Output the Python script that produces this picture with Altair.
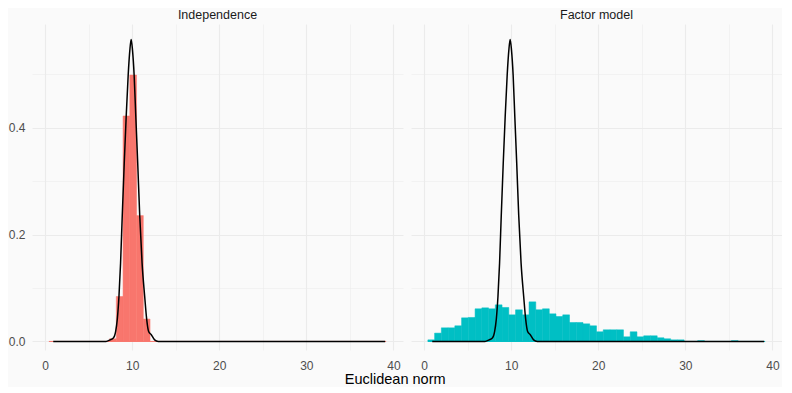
import altair as alt
import pandas as pd

panels = ["Independence", "Factor model"]
panel_colors = ["#F8766D", "#00BFC4"]

# histogram binning (50 bins)
bin_start = 0.436
bin_width = 0.7745

indep_density = [
    0.0, 0.0, 0.0, 0.0, 0.0, 0.0, 0.0, 0.0, 0.0, 0.005,
    0.0841, 0.4219, 0.4985, 0.2355, 0.0419, 0.0, 0.0, 0.0, 0.0, 0.0,
    0.0, 0.0, 0.0, 0.0, 0.0, 0.0, 0.0, 0.0, 0.0, 0.0,
    0.0, 0.0, 0.0, 0.0, 0.0, 0.0, 0.0, 0.0, 0.0, 0.0,
    0.0, 0.0, 0.0, 0.0, 0.0, 0.0, 0.0, 0.0, 0.0, 0.0,
]
factor_density = [
    0.003, 0.0156, 0.0255, 0.0255, 0.0293, 0.0442, 0.0449, 0.0611, 0.0629, 0.0611,
    0.0685, 0.0636, 0.0498, 0.0592, 0.0498, 0.0741, 0.0592, 0.0611, 0.0517, 0.0467,
    0.0498, 0.0355, 0.0355, 0.0330, 0.0293, 0.0181, 0.0218, 0.0218, 0.0218, 0.0087,
    0.0181, 0.0087, 0.0106, 0.0106, 0.0069, 0.0050, 0.0030, 0.0030, 0.0, 0.0,
    0.0015, 0.0, 0.0, 0.0, 0.0, 0.0015, 0.0, 0.0, 0.0, 0.0,
]

# reference density curve (same in both panels)
curve_x = [0.94, 7.0, 7.46, 7.84, 8.106, 8.295, 8.485, 8.67, 8.864, 9.09, 9.318,
           9.545, 9.735, 9.886, 10.04, 10.227, 10.417, 10.64, 10.87, 11.14, 11.44,
           11.667, 11.89, 12.2, 12.58, 13.0, 39.05]
curve_y = [0.0, 0.0, 0.003, 0.0063, 0.0187, 0.0418, 0.0841, 0.1465, 0.2355, 0.333, 0.4219,
           0.4985, 0.545, 0.565, 0.545, 0.4985, 0.4219, 0.333, 0.2355, 0.1465, 0.0841,
           0.0418, 0.0187, 0.0125, 0.003, 0.0, 0.0]

rows = []
for p, dens in zip(panels, [indep_density, factor_density]):
    for k, d in enumerate(dens):
        rows.append({"kind": "bar", "panel": p, "x": bin_start + k * bin_width,
                     "xe": bin_start + (k + 1) * bin_width, "y": d, "order": k})
    for i, (cx, cy) in enumerate(zip(curve_x, curve_y)):
        rows.append({"kind": "line", "panel": p, "x": cx, "xe": cx, "y": cy, "order": i})
df = pd.DataFrame(rows)

xs = alt.Scale(domain=[-1.5, 41.1], nice=False, zero=False)
ys = alt.Scale(domain=[-0.016, 0.594], nice=False, zero=False)

xaxis = alt.Axis(
    title=None, values=[0, 5, 10, 15, 20, 25, 30, 35, 40],
    labelExpr="datum.value % 10 === 0 ? datum.label : ''",
    gridWidth={"condition": {"test": "datum.value % 10 === 0", "value": 1.1}, "value": 0.55},
    labelOverlap=False, labelFlush=False, labelPadding=10,
)
yaxis = alt.Axis(
    title=None, values=[0, 0.1, 0.2, 0.3, 0.4, 0.5],
    labelExpr="round(datum.value*10) % 2 === 0 ? format(datum.value, '.1f') : ''",
    gridWidth={"condition": {"test": "round(datum.value*10) % 2 === 0", "value": 1.1}, "value": 0.55},
    labelOverlap=False, labelFlush=False, labelPadding=7,
)
color = alt.Color("panel:N", scale=alt.Scale(domain=panels, range=panel_colors), legend=None)
stroke = alt.Stroke("panel:N", scale=alt.Scale(domain=panels, range=panel_colors), legend=None)

base = alt.Chart()
bars = base.transform_filter("datum.kind === 'bar' && datum.y > 0").mark_rect(strokeWidth=0.5).encode(
    x=alt.X("x:Q", scale=xs, axis=xaxis),
    x2="xe:Q",
    y=alt.Y("y:Q", scale=ys, axis=yaxis),
    y2=alt.datum(0),
    color=color,
    stroke=stroke,
)
zero = base.transform_filter("datum.kind === 'bar'").mark_rule(strokeWidth=1).encode(
    x=alt.X("min(x):Q", title=None),
    x2="max(xe):Q",
    y=alt.datum(0),
    color=color,
)
line = base.transform_filter("datum.kind === 'line'").mark_line(
    color="black", strokeWidth=1.5, interpolate="monotone"
).encode(
    x=alt.X("x:Q", title=None),
    y=alt.Y("y:Q", title=None),
    order="order:Q",
)

layered = alt.layer(bars, zero, line).properties(width=371, height=326)

chart = alt.FacetChart(
    data=df,
    spec=layered,
    facet=alt.Facet("panel:N", sort=panels, header=alt.Header(
        title=None, labelFontSize=12.5, labelColor="#1a1a1a",
        labelFont="Liberation Sans", labelPadding=3)),
    columns=2,
).properties(
    title=alt.TitleParams("Euclidean norm", orient="bottom", anchor="middle",
                          fontSize=14.5, fontWeight="normal", color="black",
                          font="Liberation Sans", offset=2),
    background="#fafafa",
    padding={"left": 0, "top": 0, "right": 0, "bottom": 0},
).configure_view(stroke=None).configure_facet(spacing=8).configure_axis(
    domain=False, ticks=False, labelColor="#4d4d4d", labelFontSize=12,
    labelFont="Liberation Sans", gridColor="#ebebeb",
)

chart.save("out.html", embed_options={"renderer": "svg", "actions": False})
